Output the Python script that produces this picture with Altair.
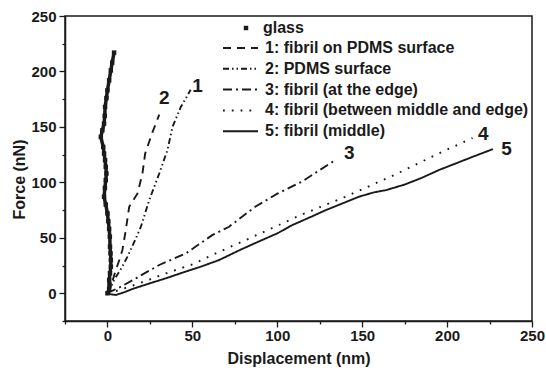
import altair as alt
import pandas as pd

# ---------------- data ----------------
glass_x = [0, 1, 1.2, 1, 1.5, 2, 2, 1.8, 1.5, 1.4, 1, 0.5, 0, -1, -2, -1.5, -1, -0.6, -1, -1.4,
           -2, -2.5, -3.9, -3, -2, -1.6, -1.4, -0.6, 0, 1, 2, 2.8, 3.9]
glass_y = [0, 4, 8, 12, 18, 24, 30, 36, 42, 51, 58, 65, 72, 80, 87, 95, 102, 108, 114, 120,
           126, 132, 141, 147, 153, 160, 168, 176, 183, 192, 201, 208, 217]

s1_x = [0, 2, 4.9, 7, 8.8, 10.8, 12.8, 17.7, 20.6, 22.2, 26.2, 30.5]
s1_y = [0, 6, 21, 30, 39, 57, 78, 90, 108, 126, 144, 161]

s2_x = [0, 2, 3.9, 8, 11.8, 16, 19.7, 24.6, 30.5, 35.3, 38.3, 43.2, 49]
s2_y = [0, 5, 12, 22, 33, 47, 60, 84, 108, 129, 150, 168, 183.5]

s3_x = [0, 1.8, 8, 16.7, 30.5, 46.2, 61.9, 71.6, 87, 100.3, 114.6, 124.9, 134.1]
s3_y = [0, 1.5, 6, 13.5, 25.5, 36, 52.6, 60, 78, 90, 100.7, 111, 120]

s4_x = [0, 5, 15, 25, 34.4, 50, 63.8, 80, 93, 113, 140, 168, 195, 215]
s4_y = [0, 2, 7, 12.5, 18, 26, 36, 47, 56, 70, 87, 106, 126, 140]

s5_x = [0, 2, 5, 10, 15, 25, 34.4, 45, 55, 65.8, 78, 89, 100, 109, 120, 128.6, 140, 148, 157,
        164, 175, 185, 195, 205, 215, 227]
s5_y = [0, -1, -1.5, 1, 4, 9, 13.5, 19, 24, 30, 39, 46.6, 54, 61.6, 69, 75, 82, 87, 91,
        93, 98, 104, 111, 117, 123, 130]

series_names = [
    "1: fibril on PDMS surface",
    "2: PDMS surface",
    "3: fibril (at the edge)",
    "4: fibril (between middle and edge)",
    "5: fibril (middle)",
]
series_x = [s1_x, s2_x, s3_x, s4_x, s5_x]
series_y = [s1_y, s2_y, s3_y, s4_y, s5_y]

label_text = ["1", "2", "3", "4", "5"]
label_x = [53, 33.4, 142.4, 221.3, 235]
label_y = [188, 177.4, 127.8, 144.4, 131]

major_ticks = [0, 50, 100, 150, 200, 250]
minor_ticks = [-25, 25, 75, 125, 175, 225]

# ---------------- tables ----------------
rows = []
for name, xs, ys in zip(series_names, series_x, series_y):
    for i, (xv, yv) in enumerate(zip(xs, ys)):
        rows.append({"x": xv, "y": yv, "series": name, "order": i})
curves = pd.DataFrame(rows)

glass = pd.DataFrame({"x": glass_x, "y": glass_y, "series": "glass",
                      "order": list(range(len(glass_x)))})
labels = pd.DataFrame({"label": label_text, "x": label_x, "y": label_y})

INK = "#1a1a1a"
FONT = "Liberation Sans"

xscale = alt.Scale(domain=[-25, 250], nice=False, zero=False)
yscale = alt.Scale(domain=[-25, 250], nice=False, zero=False)

xaxis = alt.Axis(
    orient="bottom", values=major_ticks,
    tickSize=6, tickColor=INK, tickWidth=1.3,
    grid=False, domainColor=INK, domainWidth=1.5,
    labelFont=FONT, labelFontSize=15, labelFontWeight="bold", labelColor=INK,
    labelPadding=1, labelFlush=False, labelOverlap=False,
    title="Displacement (nm)", titleFont=FONT, titleFontSize=16,
    titleFontWeight="bold", titleColor=INK, titlePadding=7,
)
yaxis = alt.Axis(
    orient="left", values=major_ticks,
    tickSize=6, tickColor=INK, tickWidth=1.3,
    grid=False, domainColor=INK, domainWidth=1.5,
    labelFont=FONT, labelFontSize=15, labelFontWeight="bold", labelColor=INK,
    labelPadding=3, labelFlush=False, labelOverlap=False,
    title="Force (nN)", titleFont=FONT, titleFontSize=16,
    titleFontWeight="bold", titleColor=INK,
    titleX=-46, titleY=163, titleAngle=270, titleAlign="center", titleBaseline="middle",
)
xaxis_minor = alt.Axis(
    orient="bottom", values=minor_ticks, labels=False, domain=False, grid=False,
    tickSize=3, tickColor=INK, tickWidth=1.3, title=None,
)
yaxis_minor = alt.Axis(
    orient="left", values=minor_ticks, labels=False, domain=False, grid=False,
    tickSize=3, tickColor=INK, tickWidth=1.3, title=None,
)

dashes = [[8, 6], [6, 3, 1.5, 3, 1.5, 3], [9, 4, 2, 4], [1.8, 7], [1, 0]]

lines = alt.Chart(curves).mark_line(strokeWidth=1.9, color=INK).encode(
    x=alt.X("x:Q", scale=xscale, axis=xaxis),
    y=alt.Y("y:Q", scale=yscale, axis=yaxis),
    strokeDash=alt.StrokeDash(
        "series:N",
        scale=alt.Scale(domain=series_names, range=dashes),
        legend=alt.Legend(
            orient="none", legendX=157, legendY=24, title=None, padding=0,
            symbolType="stroke", symbolSize=1225, symbolStrokeWidth=2,
            symbolStrokeColor=INK, labelFont=FONT, labelFontSize=16,
            labelFontWeight="bold", labelColor=INK, labelOffset=6,
            labelLimit=400, rowPadding=4.8, clipHeight=16,
        ),
    ),
    detail="series:N",
    order="order:Q",
)

minor = alt.Chart(labels).mark_point(opacity=0).encode(
    x=alt.X("x:Q", scale=xscale, axis=xaxis_minor),
    y=alt.Y("y:Q", scale=yscale, axis=yaxis_minor),
)

glass_line = alt.Chart(glass).mark_line(strokeWidth=3.5, color=INK).encode(
    x=alt.X("x:Q", scale=xscale, axis=None),
    y=alt.Y("y:Q", scale=yscale, axis=None),
    order="order:Q",
)

glass_pts = alt.Chart(glass).mark_point(filled=True, size=20, color=INK, opacity=1).encode(
    x=alt.X("x:Q", scale=xscale, axis=None),
    y=alt.Y("y:Q", scale=yscale, axis=None),
    shape=alt.Shape(
        "series:N",
        scale=alt.Scale(domain=["glass"], range=["square"]),
        legend=alt.Legend(
            orient="none", legendX=173, legendY=4, title=None, padding=0,
            symbolSize=20, symbolFillColor=INK, symbolStrokeWidth=0,
            labelFont=FONT, labelFontSize=16, labelFontWeight="bold",
            labelColor=INK, labelOffset=9,
        ),
    ),
)

text = alt.Chart(labels).mark_text(
    font=FONT, fontSize=19, fontWeight="bold", color=INK, align="center", baseline="middle", dy=1
).encode(
    x=alt.X("x:Q", scale=xscale, axis=None),
    y=alt.Y("y:Q", scale=yscale, axis=None),
    text="label:N",
)

chart = alt.layer(lines, minor, glass_line, glass_pts, text).resolve_axis(
    x="independent", y="independent"
).properties(
    width=467, height=305,
    autosize=alt.AutoSizeParams(type="none"),
    padding={"left": 65, "top": 16, "right": 14, "bottom": 47},
    background="white",
).configure_view(stroke=INK, strokeWidth=1.5)

chart.save("out.html", embed_options={"renderer": "svg", "actions": False})
